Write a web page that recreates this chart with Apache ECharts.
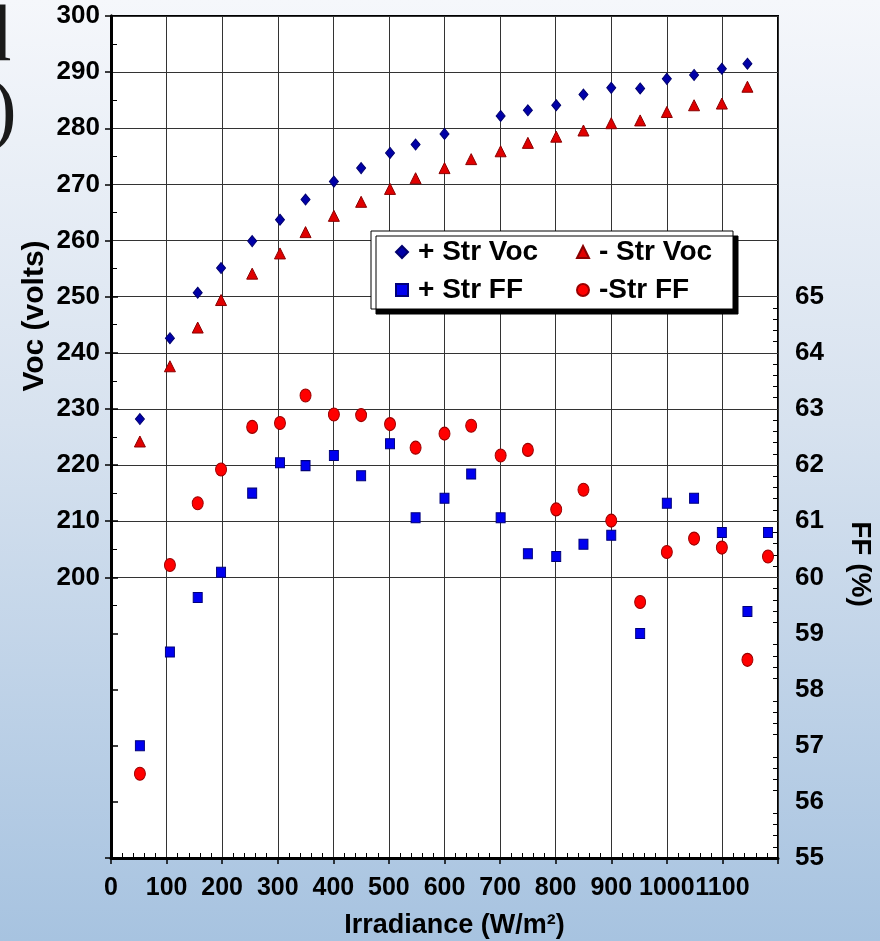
<!DOCTYPE html>
<html>
<head>
<meta charset="utf-8">
<script src="https://cdn.jsdelivr.net/npm/echarts@6/dist/echarts.min.js"></script>
<style>
  html, body { margin: 0; padding: 0; }
  #chart { width: 880px; height: 941px; }
</style>
</head>
<body>
<div id="chart"></div>
<script>
// irradiance (W/m2) of each measurement
const vocIrr = [52, 106, 156, 198, 254, 304, 350, 401, 450, 502, 548, 600, 648, 701, 750, 801, 850, 900, 952, 1000, 1049, 1099, 1145];
const posVoc = [228.2, 242.6, 250.7, 255.1, 259.9, 263.7, 267.3, 270.5, 272.9, 275.6, 277.1, 279.0, null, 282.2, 283.2, 284.1, 286.0, 287.2, 287.1, 288.8, 289.5, 290.6, 291.5];
const negVoc = [224.2, 237.6, 244.5, 249.4, 254.1, 257.7, 261.5, 264.4, 266.9, 269.2, 271.1, 272.9, 274.5, 275.9, 277.4, 278.5, 279.6, 280.9, 281.4, 282.9, 284.1, 284.4, 287.4];

const ffIrr = [52, 106, 156, 198, 254, 304, 350, 401, 450, 502, 548, 600, 648, 701, 750, 801, 850, 900, 952, 1000, 1049, 1099, 1145, 1182];
const posFF = [57.0, 58.67, 59.64, 60.09, 61.5, 62.04, 61.99, 62.17, 61.81, 62.38, 61.06, 61.41, 61.84, 61.06, 60.42, 60.37, 60.59, 60.75, 59.0, 61.32, 61.41, 60.8, 59.39, 60.8];
const negFF = [56.5, 60.22, 61.32, 61.92, 62.68, 62.75, 63.24, 62.9, 62.89, 62.73, 62.31, 62.56, 62.7, 62.17, 62.27, 61.21, 61.56, 61.01, 59.56, 60.45, 60.69, 60.53, 58.53, 60.37];

// tick labels
const irrLabels = [0, 100, 200, 300, 400, 500, 600, 700, 800, 900, 1000, 1100];
const vocLabels = [200, 210, 220, 230, 240, 250, 260, 270, 280, 290, 300];
const ffLabels = [55, 56, 57, 58, 59, 60, 61, 62, 63, 64, 65];

// small inner ticks
const irrMinor = [];
for (let v = 20; v < 1200; v += 20) if (v % 100) irrMinor.push(v);
const vocMinor = [];
for (let v = 195; v < 300; v += 10) vocMinor.push(v);
const ffMinor = [];
for (let i = 276; i < 325; i++) if (i % 5) ffMinor.push(i / 5);

const pairs = (xs, ys) => xs.map((x, i) => [x, ys[i]]).filter(p => p[1] != null);

const FONT = '"Liberation Sans", Arial, sans-serif';

const chart = echarts.init(document.getElementById('chart'));

const hiddenAxis = {
  axisLine: { show: false },
  axisLabel: { show: false },
  splitLine: { show: false }
};

chart.setOption({
  animation: false,
  backgroundColor: {
    type: 'linear', x: 0, y: 0, x2: 0, y2: 1,
    colorStops: [
      { offset: 0, color: '#f5f7fb' },
      { offset: 0.45, color: '#d7e2ef' },
      { offset: 1, color: '#a7c3e0' }
    ]
  },
  grid: {
    left: 111, right: 102, top: 16, bottom: 83,
    outerBoundsMode: 'none',
    show: true, backgroundColor: '#fff', borderColor: '#000', borderWidth: 2
  },
  graphic: [
    // cut-off slide text at the left edge
    { type: 'text', x: -29, y: -1,
      style: { text: 'd', font: '80px "Liberation Serif", "DejaVu Serif", serif', fill: '#1a1a1a', verticalAlign: 'top' } },
    { type: 'text', x: -10, y: 74,
      style: { text: ')', font: '80px "Liberation Serif", "DejaVu Serif", serif', fill: '#1a1a1a', verticalAlign: 'top' } },
    { type: 'text', x: 35, y: 316, rotation: Math.PI / 2,
      style: { text: 'Voc (volts)', font: 'bold 30px ' + FONT, fill: '#000', align: 'center', verticalAlign: 'middle' } },
    { type: 'text', x: 860, y: 564, rotation: -Math.PI / 2,
      style: { text: 'FF (%)', font: 'bold 28px ' + FONT, fill: '#000', align: 'center', verticalAlign: 'middle' } }
  ],
  legend: {
    left: 371, top: 231, width: 325,
    padding: [7, 14, 5, 24],
    itemGap: 10, itemWidth: 12, itemHeight: 12,
    backgroundColor: '#fff', borderColor: '#000', borderWidth: 1,
    shadowColor: '#000', shadowBlur: 0, shadowOffsetX: 5, shadowOffsetY: 5,
    textStyle: { fontFamily: FONT, fontWeight: 'bold', fontSize: 28, lineHeight: 27, color: '#000', padding: [0, 0, 0, 5] },
    data: [
      { name: '+ Str Voc', textStyle: { width: 148 } },
      { name: '- Str Voc', textStyle: { width: 120 } },
      { name: '+ Str FF', textStyle: { width: 148 } },
      { name: '-Str FF', textStyle: { width: 120 } }
    ]
  },
  xAxis: [
    {
      type: 'value', min: 0, max: 1200, interval: 100, position: 'bottom',
      name: 'Irradiance (W/m²)', nameLocation: 'middle', nameGap: 54,
      nameTextStyle: { fontFamily: FONT, fontWeight: 'bold', fontSize: 27, color: '#000', padding: [0, 0, 0, 20] },
      axisLine: { lineStyle: { color: '#000', width: 3 } },
      axisTick: { length: 6, lineStyle: { color: '#000', width: 1.5 } },
      axisLabel: {
        customValues: irrLabels, margin: 18, hideOverlap: false,
        formatter: v => String(v),
        fontFamily: FONT, fontWeight: 'bold', fontSize: 25, color: '#000'
      },
      splitLine: { lineStyle: { color: '#333', width: 1 } }
    },
    Object.assign({
      type: 'value', min: 0, max: 1200, interval: 100, position: 'bottom',
      axisTick: { inside: true, length: 5, customValues: irrMinor, lineStyle: { color: '#000', width: 1 } }
    }, hiddenAxis)
  ],
  yAxis: [
    {
      type: 'value', min: 150, max: 300, interval: 10, position: 'left',
      axisLine: { show: true, lineStyle: { color: '#000', width: 3 } },
      axisTick: { length: 6, customValues: [150].concat(vocLabels), lineStyle: { color: '#000', width: 1.5 } },
      axisLabel: { customValues: vocLabels, margin: 11, fontFamily: FONT, fontWeight: 'bold', fontSize: 26, color: '#000' },
      splitLine: { lineStyle: { color: '#333', width: 1 } }
    },
    {
      type: 'value', min: 55, max: 70, interval: 1, position: 'right',
      axisLine: { show: true, lineStyle: { color: '#000', width: 3 } },
      axisTick: { length: 7, customValues: ffLabels, lineStyle: { color: '#000', width: 1.5 } },
      axisLabel: { customValues: ffLabels, margin: 17, fontFamily: FONT, fontWeight: 'bold', fontSize: 26, color: '#000' },
      splitLine: { show: false }
    },
    Object.assign({
      type: 'value', min: 150, max: 300, interval: 10, position: 'left',
      axisTick: { inside: true, length: 6, customValues: vocMinor, lineStyle: { color: '#000', width: 1 } }
    }, hiddenAxis),
    Object.assign({
      type: 'value', min: 55, max: 70, interval: 1, position: 'right',
      axisTick: { inside: true, length: 5, customValues: ffMinor, lineStyle: { color: '#000', width: 1 } }
    }, hiddenAxis)
  ],
  series: [
    {
      name: '+ Str Voc', type: 'scatter', yAxisIndex: 0,
      symbol: 'diamond', symbolSize: [9, 11],
      itemStyle: { color: '#0000a8', borderColor: '#00006e', borderWidth: 1, opacity: 1 },
      data: pairs(vocIrr, posVoc)
    },
    {
      name: '- Str Voc', type: 'scatter', yAxisIndex: 0,
      symbol: 'triangle', symbolSize: [11, 11],
      itemStyle: { color: '#e00000', borderColor: '#8a0000', borderWidth: 1, opacity: 1 },
      data: pairs(vocIrr, negVoc)
    },
    {
      name: '+ Str FF', type: 'scatter', yAxisIndex: 1,
      symbol: 'rect', symbolSize: [9, 10],
      itemStyle: { color: '#0000f0', borderColor: '#00007a', borderWidth: 1, opacity: 1 },
      data: pairs(ffIrr, posFF)
    },
    {
      name: '-Str FF', type: 'scatter', yAxisIndex: 1,
      symbol: 'circle', symbolSize: [11, 13],
      itemStyle: { color: '#ff0000', borderColor: '#9a0000', borderWidth: 1, opacity: 1 },
      data: pairs(ffIrr, negFF)
    }
  ]
});

window.addEventListener('resize', () => chart.resize());
</script>
</body>
</html>
